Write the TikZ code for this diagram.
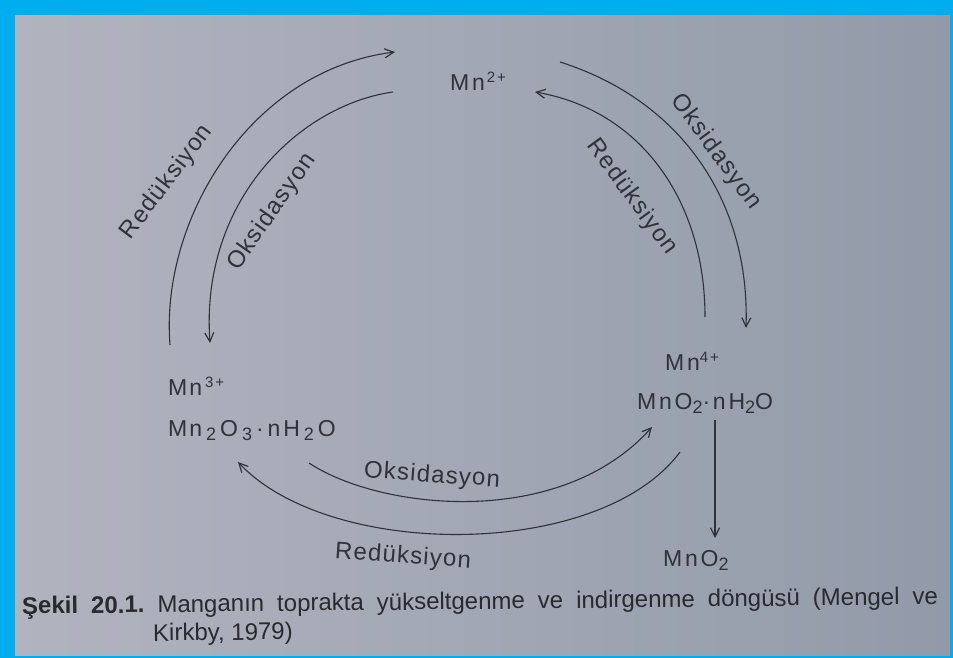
\documentclass[tikz,border=0pt]{standalone}
\usepackage{fontspec}
\setmainfont{Liberation Sans}
\newfontfamily\chemfont[LetterSpace=12]{Liberation Sans}
\newfontfamily\lblfont[LetterSpace=5]{Liberation Sans}
\usetikzlibrary{arrows.meta}
\definecolor{cyanbg}{HTML}{00AEEF}
\definecolor{paperL}{HTML}{B1B4BF}
\definecolor{paperR}{HTML}{929AA9}
\definecolor{ink}{HTML}{303139}
\newcommand{\mysub}[1]{\raisebox{-4.5pt}{\fontsize{18}{20}\selectfont #1}}
\newcommand{\mysup}[1]{\raisebox{8pt}{\fontsize{15}{17}\selectfont #1}}
\begin{document}
\begin{tikzpicture}[x=1pt,y=-1pt,
  conn/.style={draw=ink, line width=1.1pt, -{Straight Barb[length=9pt,width=9pt,line width=1.2pt]}},
  chem/.style={text=ink, font=\chemfont\fontsize{23}{27}\selectfont, inner sep=0pt, anchor=base west},
  lbl/.style={text=ink, font=\lblfont\fontsize{24}{28}\selectfont, inner sep=0pt},
  captxt/.style={text=ink!85!black, font=\fontsize{24}{28}\selectfont, inner sep=0pt, anchor=base west}]
% background
\fill[cyanbg] (0,0) rectangle (953,658);
\fill[left color=paperL, right color=paperR] (15,16) rectangle (950,655);
\useasboundingbox (0,0) rectangle (953,658);

% species
\node[chem] (n2) at (450,91) {Mn\kern2pt\mysup{2+}};
\node[chem] (n3) at (168,395) {M\kern2pt n\kern3pt\mysup{3+}};
\node[chem] (n3o) at (168,436) {M\kern2pt n\kern4pt\mysub{2}\kern4pt O\kern4pt\mysub{3}\kern4pt·\kern4pt nH\kern4pt\mysub{2}\kern4pt O};
\node[chem] (n4) at (665,370) {Mn\mysup{4+}};
\node[chem] (n4o) at (637,409) {MnO\mysub{2}·nH\mysub{2}O};
\node[chem] (mno2) at (663,566) {MnO\mysub{2}};

% arc end points
\coordinate (a1s) at (170,345); \coordinate (a1e) at (395,52);
\coordinate (a2s) at (393,92);  \coordinate (a2e) at (210,343);
\coordinate (a3s) at (560,62);  \coordinate (a3e) at (746,328);
\coordinate (a4s) at (705,317); \coordinate (a4e) at (535,92);
\coordinate (a5s) at (309,463); \coordinate (a5e) at (652,427);
\coordinate (a6s) at (680,452); \coordinate (a6e) at (238,462);
\coordinate (vs) at (715,420);  \coordinate (ve) at (715,538);

\draw[conn] (a1s) .. controls (160,220) and (250,70) .. (a1e);
\draw[conn] (a2s) .. controls (300,105) and (200,200) .. (a2e);
\draw[conn] (a3s) .. controls (680,100) and (750,200) .. (a3e);
\draw[conn] (a4s) .. controls (705,200) and (640,110) .. (a4e);
\draw[conn] (a5s) .. controls (380,510) and (560,530) .. (a5e);
\draw[conn] (a6s) .. controls (600,560) and (330,560) .. (a6e);
\draw[conn] (vs) -- (ve);

% labels
\node[lbl, rotate=53] (lRed) at (167,182) {Redüksiyon};
\node[lbl, rotate=55] (lOks) at (272,212) {Oksidasyon};
\node[lbl, rotate=-54] (rOks) at (716,152) {Oksidasyon};
\node[lbl, rotate=-54] (rRed) at (632,197) {Redüksiyon};
\node[lbl, rotate=-4] (bOks) at (432,476) {Oksidasyon};
\node[lbl, rotate=-4] (bRed) at (403,557) {Redüksiyon};

% caption
\node[captxt, rotate=0.6] (cap1) at (22,614) {\makebox[916pt][s]{\textbf{Şekil}\hfill\textbf{20.1.}\hfill Manganın\hfill toprakta\hfill yükseltgenme\hfill ve\hfill indirgenme\hfill döngüsü\hfill (Mengel\hfill ve}};
\node[captxt, rotate=0.6] (cap2) at (153,641) {Kirkby, 1979)};
\end{tikzpicture}
\end{document}
